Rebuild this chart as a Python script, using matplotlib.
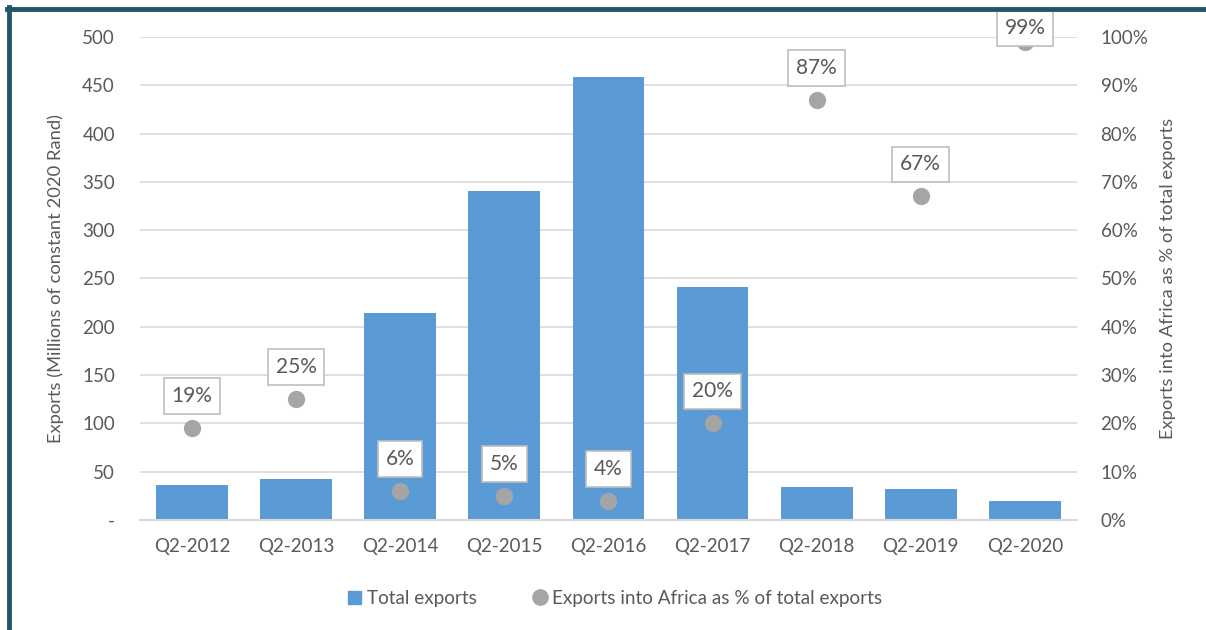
import matplotlib
matplotlib.use("Agg")
import matplotlib.pyplot as plt
from matplotlib.lines import Line2D
from matplotlib.patches import Patch
import numpy as np

quarters = ["Q2-2012", "Q2-2013", "Q2-2014", "Q2-2015", "Q2-2016",
            "Q2-2017", "Q2-2018", "Q2-2019", "Q2-2020"]
total_exports = [36, 42, 214, 341, 459, 241, 34, 32, 20]
africa_share = [19, 25, 6, 5, 4, 20, 87, 67, 99]

BAR = "#5b9bd5"
DOT = "#a5a5a5"
TEXT = "#595959"
GRID = "#d9d9d9"
FRAME = "#215868"
FS = 13.2

plt.rcParams["font.family"] = ["Lato", "DejaVu Sans"]

fig = plt.figure(figsize=(12.06, 6.3), dpi=100)
ax = fig.add_axes([0.116, 0.1746, 0.777, 0.7667])
x = np.arange(len(quarters))

ax.bar(x, total_exports, width=0.69, color=BAR, zorder=2)
ax.set_ylim(0, 500)
ax.set_xlim(-0.5, len(quarters) - 0.5)
ax.set_yticks(range(0, 501, 50))
ax.set_yticklabels(["-"] + [str(v) for v in range(50, 501, 50)])
ax.set_xticks(x)
ax.set_xticklabels(quarters)
ax.grid(axis="y", color=GRID, linewidth=1.2, zorder=0)
for side in ["top", "right", "left"]:
    ax.spines[side].set_visible(False)
ax.spines["bottom"].set_color(GRID)
ax.spines["bottom"].set_linewidth(1.5)
ax.tick_params(axis="both", length=0, labelsize=FS + 0.3, colors=TEXT)
ax.tick_params(axis="x", pad=13)
ax.tick_params(axis="y", pad=18)
ax.set_ylabel("Exports (Millions of constant 2020 Rand)", fontsize=FS, color=TEXT, labelpad=13)

ax2 = ax.twinx()
ax2.set_ylim(0, 100)
ax2.set_yticks(range(0, 101, 10))
ax2.set_yticklabels([f"{v}%" for v in range(0, 101, 10)])
ax2.tick_params(axis="y", length=0, labelsize=FS + 0.3, colors=TEXT, pad=17)
for side in ["top", "right", "left", "bottom"]:
    ax2.spines[side].set_visible(False)
ax2.set_ylabel("Exports into Africa as % of total exports", fontsize=FS, color=TEXT, labelpad=8)
ax2.scatter(x, africa_share, s=130, color=DOT, zorder=3, clip_on=False)
for xi, v in zip(x, africa_share):
    # labels near the top are pulled down to stay inside the chart
    dy = 23 if v < 95 else 10
    ax2.annotate(f"{v}%", (xi, v), xytext=(0, dy), textcoords="offset points",
                 ha="center", va="center", fontsize=15, color=TEXT, annotation_clip=False,
                 bbox=dict(boxstyle="square,pad=0.38", fc="white", ec="#bfbfbf", lw=1.2))

handles = [Patch(color=BAR, label="Total exports"),
           Line2D([], [], marker="o", linestyle="none", color=DOT, markersize=11,
                  label="Exports into Africa as % of total exports")]
fig.legend(handles=handles, loc="center", bbox_to_anchor=(0.51, 0.05), ncol=2,
           frameon=False, fontsize=13.6, labelcolor=TEXT, handlelength=0.7,
           handletextpad=0.3, columnspacing=3)

# dark frame on the top and left edges
fig.add_artist(Line2D([7 / 1206, 1], [1 - 9 / 630] * 2, color=FRAME, lw=3.5,
                      transform=fig.transFigure, zorder=10))
fig.add_artist(Line2D([9 / 1206] * 2, [0, 1 - 7 / 630], color=FRAME, lw=3.5,
                      transform=fig.transFigure, zorder=10))

fig.savefig("out.png", dpi=100)
